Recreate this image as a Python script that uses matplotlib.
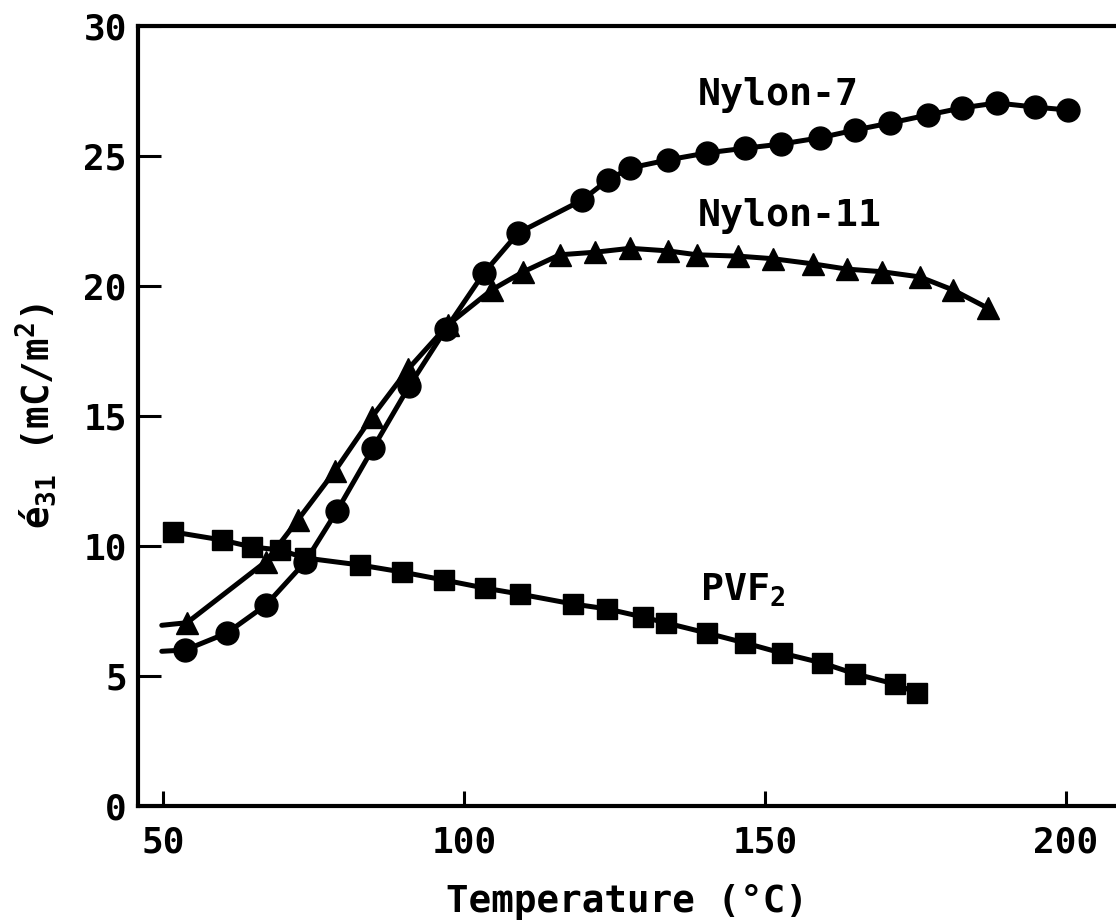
import matplotlib
matplotlib.use("Agg")
import matplotlib.pyplot as plt

# ---- data ----
nylon7_T = [53.7, 60.6, 67.1, 73.6, 78.9, 84.9, 90.9, 97.0, 103.3, 109.0, 119.6, 123.9,
            127.6, 133.9, 140.4, 146.7, 152.7, 159.1, 165.0, 170.8, 177.1, 182.7, 188.5,
            194.9, 200.3]
nylon7_e = [6.0, 6.65, 7.73, 9.38, 11.35, 13.77, 16.15, 18.35, 20.5, 22.04, 23.3, 24.08,
            24.54, 24.85, 25.12, 25.3, 25.46, 25.7, 26.0, 26.27, 26.58, 26.85, 27.04,
            26.88, 26.77]
nylon7_lead = ([49.8], [5.95])

nylon11_T = [54.0, 67.1, 72.4, 78.6, 84.7, 90.7, 97.3, 104.6, 109.8, 115.9, 121.8, 127.6,
             133.9, 138.7, 145.5, 151.3, 158.0, 163.6, 169.4, 175.7, 181.2, 187.0]
nylon11_e = [7.05, 9.4, 11.0, 12.9, 14.96, 16.8, 18.5, 19.85, 20.54, 21.2, 21.3, 21.45,
             21.35, 21.2, 21.15, 21.05, 20.85, 20.65, 20.55, 20.35, 19.85, 19.15]
nylon11_lead = ([49.8], [6.95])

pvf2_T = [51.7, 59.8, 64.8, 69.4, 73.6, 82.7, 89.7, 96.7, 103.5, 109.3, 118.1, 123.8,
          129.7, 133.6, 140.4, 146.7, 152.8, 159.5, 165.0, 171.6, 175.2]
pvf2_e = [10.54, 10.23, 9.96, 9.85, 9.54, 9.27, 9.0, 8.69, 8.38, 8.15, 7.77, 7.58,
          7.27, 7.04, 6.65, 6.27, 5.88, 5.5, 5.08, 4.69, 4.35]

x_ticks = [50, 100, 150, 200]
y_ticks = [0, 5, 10, 15, 20, 25, 30]

labels = ["Nylon-7", "Nylon-11", "PVF$_2$"]
label_pos = [(138.9, 27.35), (138.9, 22.7), (139.2, 8.3)]

# ---- style ----
FONT = "DejaVu Sans Mono"
plt.rcParams["font.family"] = [FONT, "DejaVu Sans"]
plt.rcParams["font.weight"] = "bold"
plt.rcParams["mathtext.fontset"] = "custom"
plt.rcParams["mathtext.rm"] = FONT + ":bold"
plt.rcParams["mathtext.it"] = FONT + ":bold"
plt.rcParams["mathtext.bf"] = FONT + ":bold"
plt.rcParams["mathtext.default"] = "rm"

fig = plt.figure(figsize=(11.16, 9.23), dpi=100)
ax = fig.add_axes([138 / 1116, 117 / 923, 978 / 1116, 780 / 923])

LW = 3.6
ax.plot(nylon7_lead[0] + nylon7_T, nylon7_lead[1] + nylon7_e, "-", color="black", lw=LW,
        solid_capstyle="round")
ax.plot(nylon7_T, nylon7_e, "o", color="black", ms=16.5)
ax.plot(nylon11_lead[0] + nylon11_T, nylon11_lead[1] + nylon11_e, "-", color="black", lw=LW,
        solid_capstyle="round")
ax.plot(nylon11_T, nylon11_e, "^", color="black", ms=16)
ax.plot(pvf2_T, pvf2_e, "-", color="black", lw=LW)
ax.plot(pvf2_T, pvf2_e, "s", color="black", ms=15)

for txt, (x, y) in zip(labels, label_pos):
    ax.text(x, y, txt, fontsize=27.5, fontweight="bold", ha="left", va="center")

ax.set_xlim(45.85, 208.3)
ax.set_ylim(0, 30)
ax.set_xticks(x_ticks)
ax.set_yticks(y_ticks)
ax.tick_params(axis="x", direction="in", length=11, width=2.2, labelsize=26, pad=14)
ax.tick_params(axis="y", direction="in", length=16.5, width=2.2, labelsize=26, pad=8)
for lab in ax.get_xticklabels() + ax.get_yticklabels():
    lab.set_fontweight("bold")

for s in ["left", "bottom", "top"]:
    ax.spines[s].set_linewidth(3)
ax.spines["right"].set_visible(False)

ax.set_xlabel("Temperature (°C)", fontsize=27, fontweight="bold", labelpad=18)
ax.set_ylabel("é$_{31}$ (mC/m$^2$)", fontsize=27, fontweight="bold", labelpad=18)

fig.savefig("out.png", dpi=100)
